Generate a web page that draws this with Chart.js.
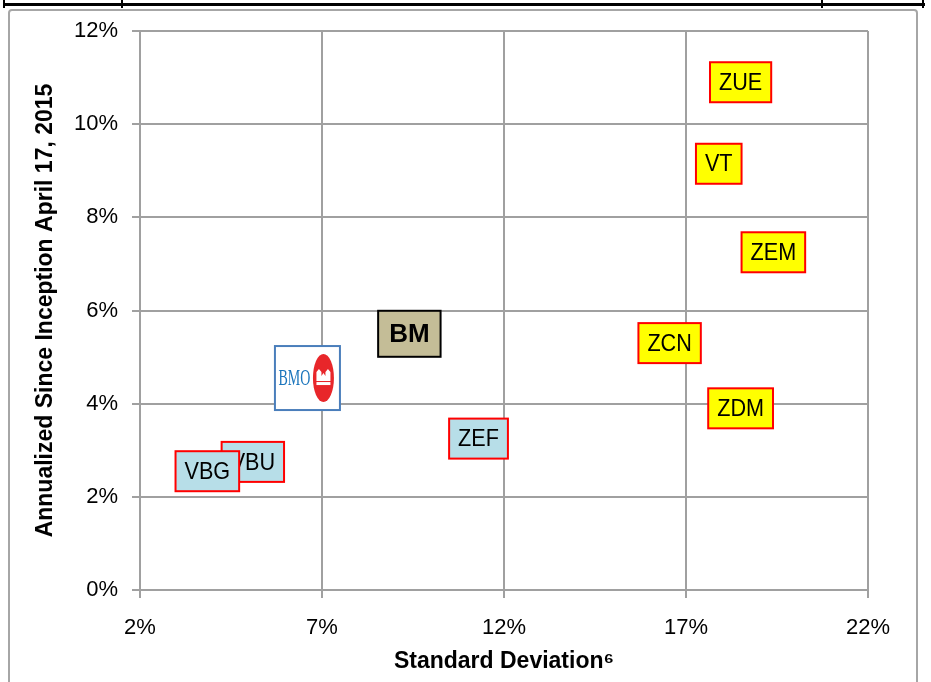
<!DOCTYPE html>
<html>
<head>
<meta charset="utf-8">
<script src="https://cdn.jsdelivr.net/npm/chart.js@4.4.1/dist/chart.umd.min.js"></script>
<style>
  html, body { margin: 0; padding: 0; background: #fff; }
</style>
</head>
<body>
<canvas id="riskChart" width="931" height="682"></canvas>
<script>
// Equity ETFs (yellow labels)
const equityNames = ["ZUE", "VT", "ZEM", "ZCN", "ZDM"];
const equityStdDev = [18.5, 17.9, 19.4, 16.55, 18.5];
const equityReturn = [10.9, 9.15, 7.25, 5.3, 3.9];

// Bond ETFs (blue labels)
const bondNames = ["ZEF", "VBU", "VBG"];
const bondStdDev = [11.3, 5.1, 3.85];
const bondReturn = [3.25, 2.75, 2.55];

// Balanced fund
const fundNames = ["BM"];
const fundStdDev = [9.4];
const fundReturn = [5.5];

// BMO logo point
const logoNames = ["BMO"];
const logoStdDev = [6.6];
const logoReturn = [4.55];

const xTicks = [2, 7, 12, 17, 22];
const yTicks = [0, 2, 4, 6, 8, 10, 12];

const gridGray = "#a0a0a0";

function toPoints(xs, ys) {
  return xs.map((x, i) => ({ x: x, y: ys[i] }));
}

// white page, grey frame and the black table border on top
const framePlugin = {
  id: "frame",
  beforeDraw(chart) {
    const ctx = chart.ctx;
    ctx.save();
    ctx.fillStyle = "#fff";
    ctx.fillRect(0, 0, chart.width, chart.height);
    ctx.strokeStyle = "#a6a6a6";
    ctx.lineWidth = 2;
    ctx.beginPath();
    ctx.roundRect(9, 10, 908, 700, 3);
    ctx.stroke();
    ctx.strokeStyle = "#000";
    ctx.lineWidth = 3;
    ctx.beginPath();
    ctx.moveTo(3, 4.5);
    ctx.lineTo(925, 4.5);
    ctx.stroke();
    ctx.lineWidth = 2;
    [4, 122, 822, 923].forEach(x => {
      ctx.beginPath();
      ctx.moveTo(x, 0);
      ctx.lineTo(x, 8);
      ctx.stroke();
    });
    ctx.restore();
  }
};

function drawBox(ctx, x, y, text, ds) {
  ctx.font = ds.labelFont;
  const sx = ds.squeeze || 1;
  const w = ctx.measureText(text).width * sx + ds.padX * 2;
  const h = ds.boxH;
  ctx.fillStyle = ds.boxFill;
  ctx.fillRect(x - w / 2, y - h / 2, w, h);
  ctx.strokeStyle = ds.boxStroke;
  ctx.lineWidth = 2;
  ctx.strokeRect(x - w / 2, y - h / 2, w, h);
  ctx.save();
  ctx.translate(x, y + 1);
  ctx.scale(sx, 1);
  ctx.fillStyle = "#000";
  ctx.textAlign = "center";
  ctx.textBaseline = "middle";
  ctx.fillText(text, 0, 0);
  ctx.restore();
}

function drawLogo(ctx, x, y, text) {
  const w = 65, h = 64;
  ctx.fillStyle = "#fff";
  ctx.fillRect(x - w / 2, y - h / 2, w, h);
  ctx.strokeStyle = "#4a7ebb";
  ctx.lineWidth = 2;
  ctx.strokeRect(x - w / 2, y - h / 2, w, h);

  // "BMO" wordmark, squeezed like the original bitmap
  ctx.save();
  ctx.translate(x - 13, y);
  ctx.scale(0.7, 1.15);
  ctx.font = "20px 'Liberation Serif', serif";
  ctx.fillStyle = "#1b75bc";
  ctx.textAlign = "center";
  ctx.textBaseline = "middle";
  ctx.fillText(text, 0, 0.5);
  ctx.restore();

  // red roundel
  const cx = x + 16, cy = y;
  ctx.fillStyle = "#e8262a";
  ctx.beginPath();
  ctx.ellipse(cx, cy, 10.5, 24, 0, 0, Math.PI * 2);
  ctx.fill();

  // white M-bar symbol
  ctx.fillStyle = "#fff";
  ctx.fillRect(cx - 7, cy + 4, 14, 3);
  ctx.beginPath();
  ctx.moveTo(cx - 7, cy + 3);
  ctx.lineTo(cx - 7, cy - 6);
  ctx.lineTo(cx - 4.5, cy - 9);
  ctx.lineTo(cx - 2, cy - 6);
  ctx.lineTo(cx - 2, cy - 2);
  ctx.lineTo(cx, cy - 5);
  ctx.lineTo(cx + 2, cy - 2);
  ctx.lineTo(cx + 2, cy - 6);
  ctx.lineTo(cx + 4.5, cy - 9);
  ctx.lineTo(cx + 7, cy - 6);
  ctx.lineTo(cx + 7, cy + 3);
  ctx.closePath();
  ctx.fill();
}

// draws each point as its labelled box
const labelPlugin = {
  id: "labelBoxes",
  afterDatasetsDraw(chart) {
    const ctx = chart.ctx;
    ctx.save();
    chart.data.datasets.forEach((ds, di) => {
      const meta = chart.getDatasetMeta(di);
      meta.data.forEach((pt, i) => {
        if (ds.isLogo) drawLogo(ctx, pt.x, pt.y, ds.names[i]);
        else drawBox(ctx, pt.x, pt.y, ds.names[i], ds);
      });
    });
    ctx.restore();
  }
};

const tickFont = { family: "'Liberation Sans', sans-serif", size: 22 };
const titleFont = { family: "'Liberation Sans', sans-serif", size: 23, weight: "bold" };
const boxFont = "24px 'Liberation Sans', sans-serif";

const ctx = document.getElementById("riskChart").getContext("2d");
const riskChart = new Chart(ctx, {
  type: "scatter",
  data: {
    datasets: [
      {
        label: "Equity ETFs",
        data: toPoints(equityStdDev, equityReturn),
        names: equityNames,
        boxFill: "#ffff00", boxStroke: "#ff0000", labelFont: boxFont, squeeze: 0.9, padX: 9, boxH: 40,
        pointRadius: 0
      },
      {
        label: "Bond ETFs",
        data: toPoints(bondStdDev, bondReturn),
        names: bondNames,
        boxFill: "#b7dee8", boxStroke: "#ff0000", labelFont: boxFont, squeeze: 0.9, padX: 9, boxH: 40,
        pointRadius: 0
      },
      {
        label: "Fund",
        data: toPoints(fundStdDev, fundReturn),
        names: fundNames,
        boxFill: "#c4bd97", boxStroke: "#000000",
        labelFont: "bold 26px 'Liberation Sans', sans-serif", padX: 11, boxH: 46,
        pointRadius: 0
      },
      {
        label: "BMO",
        data: toPoints(logoStdDev, logoReturn),
        names: logoNames,
        isLogo: true,
        pointRadius: 0
      }
    ]
  },
  options: {
    responsive: false,
    animation: false,
    layout: { padding: { left: 0, right: 63, top: 31, bottom: 0 } },
    plugins: {
      legend: { display: false },
      tooltip: { enabled: false }
    },
    scales: {
      x: {
        type: "linear",
        min: 2,
        max: 22,
        afterBuildTicks: s => { s.ticks = xTicks.map(v => ({ value: v })); },
        afterFit: s => { s.height = 92; },
        ticks: {
          font: tickFont,
          color: "#000",
          padding: 17,
          callback: v => v + "%"
        },
        grid: { color: gridGray, lineWidth: 2, tickLength: 8, tickColor: gridGray },
        border: { color: gridGray, width: 2 },
        title: {
          display: true,
          text: "Standard Deviation\u2076",
          font: titleFont,
          color: "#000",
          padding: 7
        }
      },
      y: {
        type: "linear",
        min: 0,
        max: 12,
        afterBuildTicks: s => { s.ticks = yTicks.map(v => ({ value: v })); },
        afterFit: s => { s.width = 140; },
        ticks: {
          font: tickFont,
          color: "#000",
          padding: 14,
          callback: v => v + "%"
        },
        grid: { color: gridGray, lineWidth: 2, tickLength: 8, tickColor: gridGray },
        border: { color: gridGray, width: 2 },
        title: {
          display: true,
          text: "Annualized Since Inception April 17, 2015",
          font: titleFont,
          color: "#000",
          padding: 32
        }
      }
    }
  },
  plugins: [framePlugin, labelPlugin]
});
</script>
</body>
</html>
